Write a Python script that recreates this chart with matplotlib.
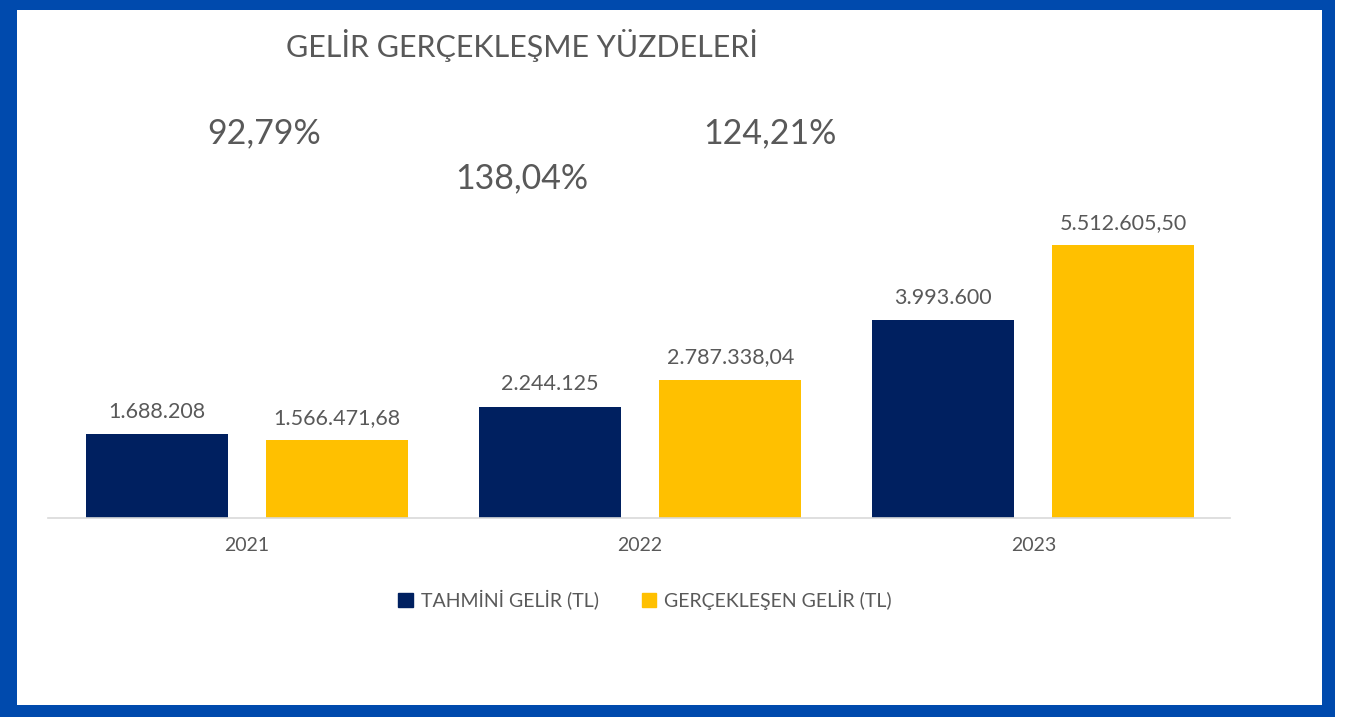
import numpy as np
import matplotlib
matplotlib.use('Agg')
import matplotlib.pyplot as plt
from matplotlib.patches import Rectangle, Patch

plt.rcParams['font.family'] = ['Lato', 'DejaVu Sans']

# veriler
yillar = ['2021', '2022', '2023']
tahmini = [1688208, 2244125, 3993600]
gerceklesen = [1566471.68, 2787338.04, 5512605.50]
yuzdeler = ['92,79%', '138,04%', '124,21%']

lacivert = '#002060'
sari = '#FFC000'
gri = '#595959'
mavi = '#004AAD'


def tr_format(v, ondalik):
    s = f'{v:,.{ondalik}f}'
    return s.replace(',', '#').replace('.', ',').replace('#', '.')


W, H = 1347, 717
fig = plt.figure(figsize=(W / 100, H / 100), dpi=100)
fig.patch.set_facecolor('white')

# mavi çerçeve
fig.patches.append(Rectangle((0, 0), 1335 / W, 1, transform=fig.transFigure,
                             facecolor=mavi, edgecolor='none', zorder=-3))
fig.patches.append(Rectangle((17 / W, 12 / H), (1322 - 17) / W, (705 - 10) / H,
                             transform=fig.transFigure, facecolor='white',
                             edgecolor='none', zorder=-2))

ax = fig.add_axes([48 / W, (H - 518) / H, 1182 / W, 297 / H])
ax.set_facecolor('none')

x = np.arange(len(yillar))
w = 0.361
off = 0.229
b1 = ax.bar(x - off, tahmini, w, color=lacivert, label='TAHMİNİ GELİR (TL)')
b2 = ax.bar(x + off, gerceklesen, w, color=sari, label='GERÇEKLEŞEN GELİR (TL)')

ax.bar_label(b1, labels=[tr_format(v, 0) for v in tahmini], padding=9,
             fontsize=15.5, color=gri)
ax.bar_label(b2, labels=[tr_format(v, 2) for v in gerceklesen], padding=9,
             fontsize=15.5, color=gri)

ax.set_xlim(-0.506, 2.5)
ax.set_ylim(0, 6e6)
ax.set_xticks(x)
ax.set_xticklabels(yillar, fontsize=14, color=gri)
ax.tick_params(axis='x', length=0, pad=14)
ax.set_yticks([])
for s in ['top', 'left', 'right']:
    ax.spines[s].set_visible(False)
ax.spines['bottom'].set_color('#D9D9D9')
ax.spines['bottom'].set_linewidth(1.2)

fig.text(522 / W, 1 - 45 / H, 'GELİR GERÇEKLEŞME YÜZDELERİ', ha='center',
         va='center', fontsize=22, color=gri)

# yüzde kutuları
yx = [264, 522, 770]
yy = [133, 178, 133]
for t, px, py in zip(yuzdeler, yx, yy):
    fig.text(px / W, 1 - py / H, t, ha='center', va='center', fontsize=24.5,
             color=gri)

fig.legend(handles=[Patch(color=lacivert), Patch(color=sari)],
           labels=['TAHMİNİ GELİR (TL)', 'GERÇEKLEŞEN GELİR (TL)'],
           loc='center', bbox_to_anchor=(645 / W, 1 - 600 / H), ncol=2,
           frameon=False, fontsize=14, labelcolor=gri, handlelength=0.75,
           handleheight=0.75, handletextpad=0.4, columnspacing=2.2)

fig.savefig('out.png', dpi=100, facecolor='white')
